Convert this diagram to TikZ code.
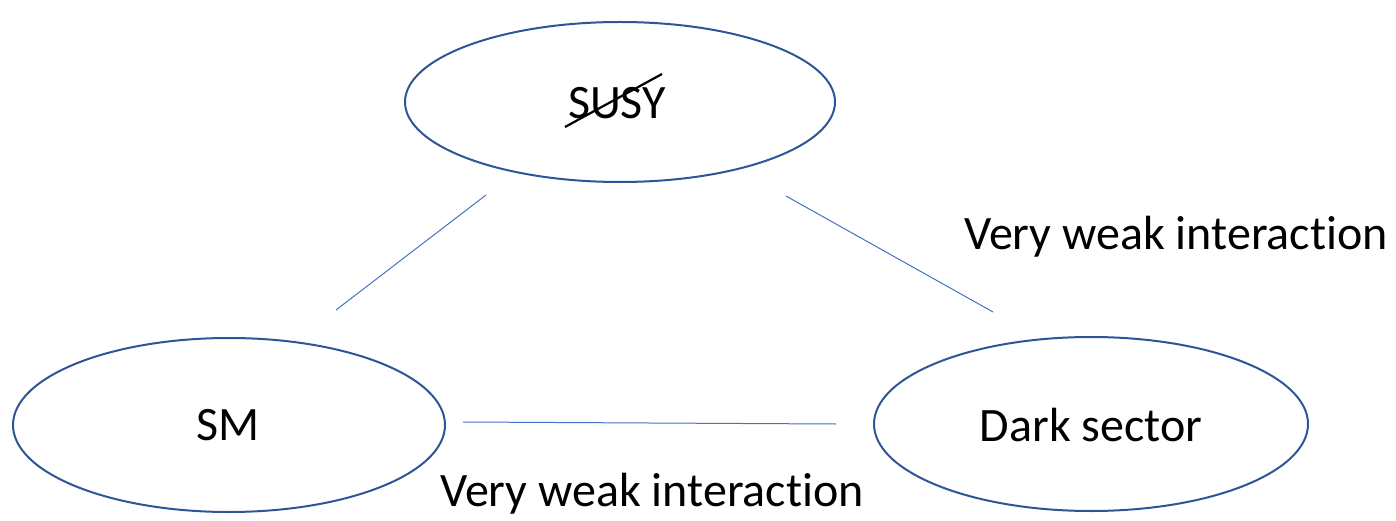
\documentclass[tikz,border=0pt]{standalone}
\usepackage{fontspec}
\setmainfont{Carlito}[Ligatures={NoCommon}]
\definecolor{ellblue}{HTML}{2F5597}
\definecolor{lineblue}{HTML}{4472C4}
\begin{document}
\begin{tikzpicture}[x=1pt,y=-1pt,
  sector/.style={draw=ellblue,line width=2pt},
  link/.style={draw=lineblue,line width=1pt},
  lbl/.style={font=\fontsize{48}{57}\selectfont,inner sep=0pt,text=black}]
\useasboundingbox (0,0) rectangle (1396,521);
\draw[sector] (620,102) ellipse [x radius=215, y radius=80];
\draw[sector] (229,425) ellipse [x radius=216, y radius=87];
\draw[sector] (1091,424) ellipse [x radius=217, y radius=87];
\node[lbl] (susy) at (617,103) {SUSY};
\node[lbl] (sm) at (228,425) {SM};
\node[lbl] (dark) at (1091,425) {Dark sector};
\node[lbl] (lab1) at (1176,237) {Very weak interaction};
\node[lbl] (lab2) at (652,494) {Very weak interaction};
\coordinate (s1) at (565,127);
\coordinate (s2) at (662,74);
\draw[line width=2.2pt] (s1) -- (s2);
\coordinate (a1) at (486,195);
\coordinate (a2) at (336,310);
\coordinate (b1) at (786,196);
\coordinate (b2) at (993,312);
\coordinate (c1) at (463,422);
\coordinate (c2) at (836,424);
\draw[link] (a1) -- (a2);
\draw[link] (b1) -- (b2);
\draw[link] (c1) -- (c2);
\end{tikzpicture}
\end{document}
